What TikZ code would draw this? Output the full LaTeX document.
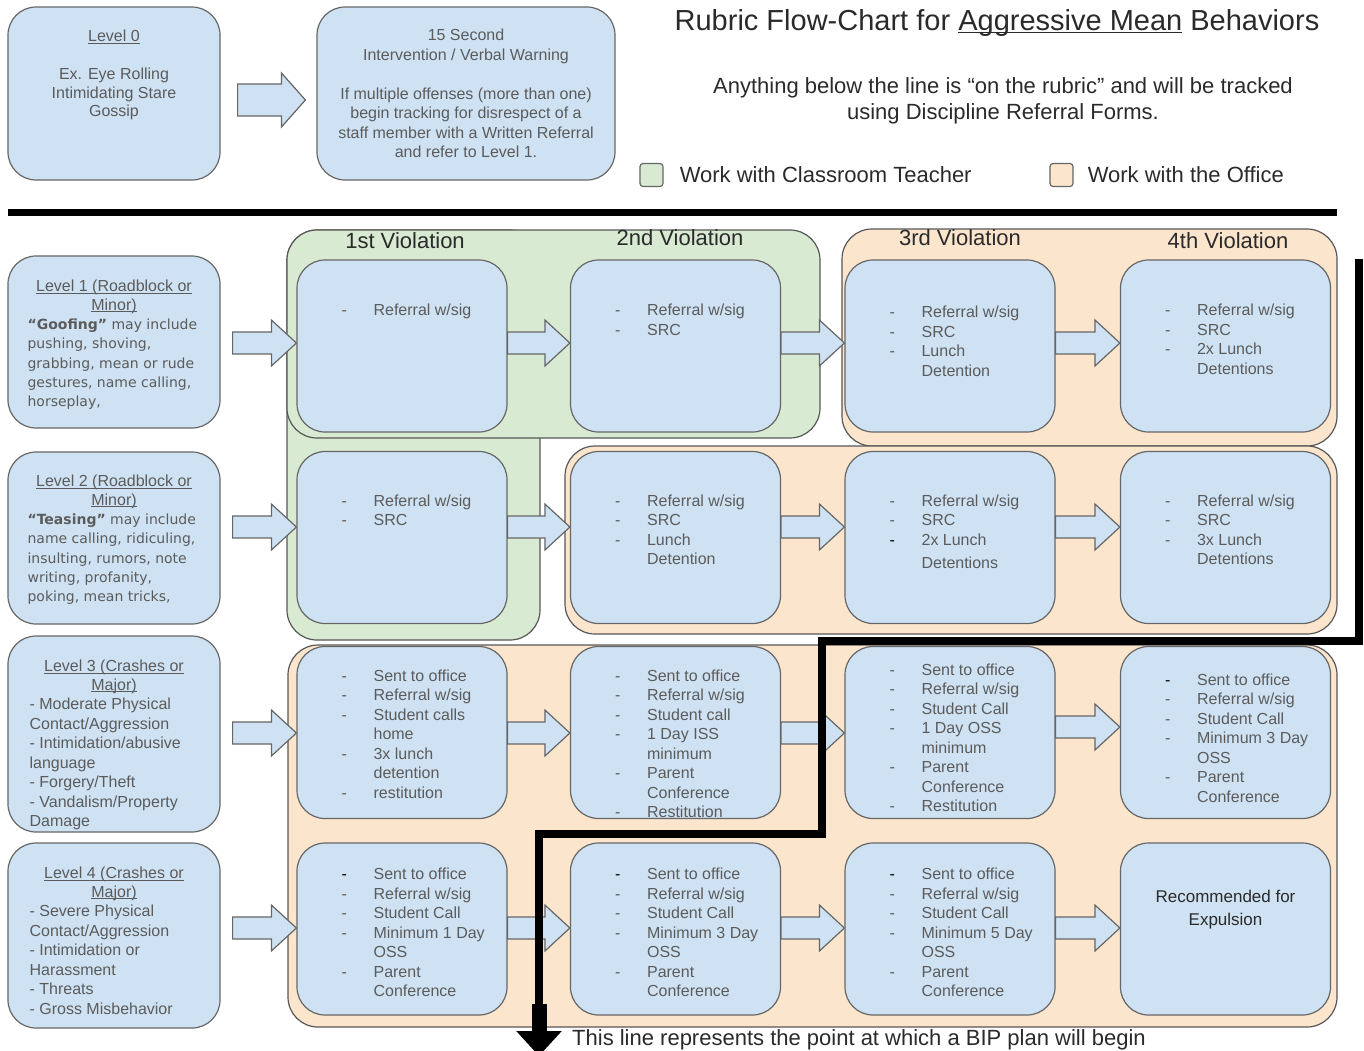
\documentclass[tikz,border=0pt]{standalone}
\usepackage{fontspec}
\setmainfont{Liberation Sans}
\newfontfamily\verd{DejaVu Sans}
\usetikzlibrary{calc}
\usetikzlibrary{positioning}
\usetikzlibrary{arrows.meta}

\definecolor{boxblue}{HTML}{CFE2F3}
\definecolor{grpgreen}{HTML}{D9EAD3}
\definecolor{grporange}{HTML}{FCE5CD}
\definecolor{edgegray}{HTML}{666666}
\definecolor{txtgray}{HTML}{5B5B5B}
\definecolor{darktxt}{HTML}{2A2A2A}

% list helpers
\newcommand{\firstln}{\rule{0pt}{14pt}}
\newcommand{\bul}{\rule{0pt}{14pt}\makebox[32pt][l]{-}}
\newcommand{\bulk}{\rule{0pt}{14pt}\makebox[32pt][l]{\textcolor{black}{-}}}
\newcommand{\contln}{\hspace*{32pt}}
\newcommand{\undl}[1]{\setbox0=\hbox{#1}\rlap{\rule[-0.12em]{\wd0}{0.055em}}\box0\relax}

\tikzset{
  vbox/.style={draw=edgegray, fill=boxblue, line width=1.2pt, rounded corners=28pt,
    minimum width=210pt, minimum height=172pt, inner sep=0pt},
  lvlbox/.style={vbox, minimum width=212pt},
  grp/.style={draw=edgegray!85!black, line width=1.2pt, rounded corners=30pt},
  fatarrow/.style={draw=edgegray, fill=boxblue, line width=1.2pt, line join=miter},
  lst/.style={anchor=north west, inner sep=0pt, align=left, text=txtgray,
    font=\fontsize{16}{19.5}\selectfont},
  lvlhead/.style={anchor=north, inner sep=0pt, align=center, text=txtgray,
    font=\fontsize{16}{18.5}\selectfont},
  lvlbody/.style={anchor=north west, inner sep=0pt, align=left, text=txtgray,
    font=\fontsize{16}{19.5}\selectfont},
  hdr/.style={anchor=base, inner sep=0pt, text=darktxt, font=\fontsize{22}{26}\selectfont},
  legsq/.style={draw=edgegray, line width=1.2pt, rounded corners=3pt, minimum size=23pt, inner sep=0pt},
  bip/.style={line width=8pt, line join=miter},
}

% block arrow between two boxes at height #4, tail gap #1
\newcommand{\fatarrow}[4][0]{%
  \draw[fatarrow] let \p1=(#2.east), \p2=(#3.west), \p3=(0,#4) in
    (\x1+#1,\y3+11) -- (\x2-25,\y3+11) -- (\x2-25,\y3+23) -- (\x2,\y3)
    -- (\x2-25,\y3-23) -- (\x2-25,\y3-11) -- (\x1+#1,\y3-11) -- cycle;}

\begin{document}
\begin{tikzpicture}[x=1pt,y=-1pt]
\useasboundingbox (0,0) rectangle (1364,1050);

% top part
\node[lvlbox, minimum height=173pt] (l0) at (114,93.5) {};
\node[vbox, minimum width=298pt, minimum height=173pt] (int) at (466,93.5) {};
\draw[fatarrow] let \p1=(l0.east), \p2=(int.west), \p3=(0,100) in
  (\x1+17,\y3+16) -- (\x2-35,\y3+16) -- (\x2-35,\y3+27) -- (\x2-11,\y3)
  -- (\x2-35,\y3-27) -- (\x2-35,\y3-16) -- (\x1+17,\y3-16) -- cycle;
\node[lvlhead] (l0txt) at ($(l0.north)+(0,21)$) {\firstln\undl{Level 0}\\[19.5pt]Ex. Eye Rolling\\Intimidating Stare\\Gossip};
\node[lvlhead, font=\fontsize{16}{19.5}\selectfont] (inttxt) at ($(int.north)+(0,20)$) {\firstln 15 Second\\Intervention / Verbal Warning\\[19.5pt]If multiple offenses (more than one)\\begin tracking for disrespect of a\\staff member with a Written Referral\\and refer to Level 1.};

\node[anchor=base, inner sep=0pt, text=darktxt, font=\fontsize{29}{34}\selectfont] (title) at (997,30) {Rubric Flow-Chart for \undl{Aggressive Mean} Behaviors};
\node[anchor=north, inner sep=0pt, align=center, text=darktxt, font=\fontsize{22}{26}\selectfont] (subtitle) at (1003,75) {\rule{0pt}{18pt}Anything below the line is “on the rubric” and will be tracked\\using Discipline Referral Forms.};

\node[legsq, fill=grpgreen] (leggreen) at (651.5,175) {};
\node[hdr, anchor=west, right=16pt of leggreen] (legteach) {Work with Classroom Teacher};
\node[legsq, fill=grporange] (legorange) at (1061.5,175) {};
\node[hdr, anchor=west, right=14pt of legorange] (legoffice) {Work with the Office};

\draw[line width=7pt] (8,212) -- (1337,212);

% coloured groups
\draw[grp, fill=grpgreen] (287,230) rectangle (540,640);
\draw[grp, fill=grpgreen] (287,230) rectangle (820,438);
\draw[grp, fill=grporange] (842,229) rectangle (1337,446);
\draw[grp, fill=grporange] (288,645) rectangle (1337,1027);
\draw[grp, fill=grporange] (565,446) rectangle (1337,634);

\node[hdr] (hd1) at (405,248) {1st Violation};
\node[hdr] (hd2) at (680,245) {2nd Violation};
\node[hdr] (hd3) at (960,245) {3rd Violation};
\node[hdr] (hd4) at (1228,248) {4th Violation};

% level boxes
\node[lvlbox] (l1) at (114,342) {};
\node[lvlbox] (l2) at (114,538) {};
\node[lvlbox, minimum height=196pt] (l3) at (114,734) {};
\node[lvlbox, minimum height=185pt] (l4) at (114,935.5) {};

% violation boxes
\foreach \r/\ry in {1/346,2/537.5,3/732.5,4/929}
  \foreach \c/\cx in {1/402,2/675.5,3/950,4/1225.5}
    \node[vbox] (v\r\c) at (\cx,\ry) {};

\foreach \r/\ay/\by in {1/343/343,2/527/527,3/733/727,4/928/928} {
  \fatarrow[12]{l\r}{v\r1}{\ay}
  \fatarrow{v\r1}{v\r2}{\ay}
  \fatarrow{v\r2}{v\r3}{\ay}
  \fatarrow{v\r3}{v\r4}{\by}
}

% level texts
\node[lvlhead] (l1head) at ($(l1.north)+(0,22)$) {\firstln\undl{Level 1 (Roadblock or}\\\undl{Minor)}};
\node[lvlbody, font=\verd\fontsize{14}{19.3}\selectfont] (l1body) at ($(l1.north west)+(20,60)$) {\firstln\textbf{“Goofing”} may include\\pushing, shoving,\\grabbing, mean or rude\\gestures, name calling,\\horseplay,};
\node[lvlhead] (l2head) at ($(l2.north)+(0,21)$) {\firstln\undl{Level 2 (Roadblock or}\\\undl{Minor)}};
\node[lvlbody, font=\verd\fontsize{14}{19.3}\selectfont] (l2body) at ($(l2.north west)+(20,59)$) {\firstln\textbf{“Teasing”} may include\\name calling, ridiculing,\\insulting, rumors, note\\writing, profanity,\\poking, mean tricks,};
\node[lvlhead] (l3head) at ($(l3.north)+(0,22)$) {\firstln\undl{Level 3 (Crashes or}\\\undl{Major)}};
\node[lvlbody] (l3body) at ($(l3.north west)+(22,60)$) {\firstln- Moderate Physical\\Contact/Aggression\\- Intimidation/abusive\\language\\- Forgery/Theft\\- Vandalism/Property\\Damage};
\node[lvlhead] (l4head) at ($(l4.north)+(0,22)$) {\firstln\undl{Level 4 (Crashes or}\\\undl{Major)}};
\node[lvlbody] (l4body) at ($(l4.north west)+(22,60)$) {\firstln- Severe Physical\\Contact/Aggression\\- Intimidation or\\Harassment\\- Threats\\- Gross Misbehavior};

% violation texts
\node[lst] (t11) at ($(v11.north west)+(45,42)$) {\bul Referral w/sig};
\node[lst] (t12) at ($(v12.north west)+(45,42)$) {\bul Referral w/sig\\\bul SRC};
\node[lst] (t13) at ($(v13.north west)+(45,44)$) {\bul Referral w/sig\\\bul SRC\\\bul Lunch\\\contln Detention};
\node[lst] (t14) at ($(v14.north west)+(45,42)$) {\bul Referral w/sig\\\bul SRC\\\bul 2x Lunch\\\contln Detentions};

\node[lst] (t21) at ($(v21.north west)+(45,41)$) {\bul Referral w/sig\\\bul SRC};
\node[lst] (t22) at ($(v22.north west)+(45,41)$) {\bul Referral w/sig\\\bul SRC\\\bul Lunch\\\contln Detention};
\node[lst] (t23) at ($(v23.north west)+(45,41)$) {\bul Referral w/sig\\\bul SRC\\\bulk 2x Lunch\\[4pt]\contln Detentions};
\node[lst] (t24) at ($(v24.north west)+(45,41)$) {\bul Referral w/sig\\\bul SRC\\\bul 3x Lunch\\\contln Detentions};

\node[lst] (t31) at ($(v31.north west)+(45,21)$) {\bul Sent to office\\\bul Referral w/sig\\\bul Student calls\\\contln home\\\bul 3x lunch\\\contln detention\\\bul restitution};
\node[lst] (t32) at ($(v32.north west)+(45,21)$) {\bul Sent to office\\\bul Referral w/sig\\\bul Student call\\\bul 1 Day ISS\\\contln minimum\\\bul Parent\\\contln Conference\\\bul Restitution};
\node[lst] (t33) at ($(v33.north west)+(45,15)$) {\bul Sent to office\\\bul Referral w/sig\\\bul Student Call\\\bul 1 Day OSS\\\contln minimum\\\bul Parent\\\contln Conference\\\bul Restitution};
\node[lst] (t34) at ($(v34.north west)+(45,25)$) {\bulk Sent to office\\\bul Referral w/sig\\\bul Student Call\\\bul Minimum 3 Day\\\contln OSS\\\bul Parent\\\contln Conference};

\node[lst] (t41) at ($(v41.north west)+(45,23)$) {\bulk Sent to office\\\bul Referral w/sig\\\bul Student Call\\\bul Minimum 1 Day\\\contln OSS\\\bul Parent\\\contln Conference};
\node[lst] (t42) at ($(v42.north west)+(45,23)$) {\bulk Sent to office\\\bul Referral w/sig\\\bul Student Call\\\bul Minimum 3 Day\\\contln OSS\\\bul Parent\\\contln Conference};
\node[lst] (t43) at ($(v43.north west)+(45,23)$) {\bulk Sent to office\\\bul Referral w/sig\\\bul Student Call\\\bul Minimum 5 Day\\\contln OSS\\\bul Parent\\\contln Conference};
\node[anchor=north, inner sep=0pt, align=center, text=darktxt, font=\fontsize{17}{23}\selectfont] (t44) at ($(v44.north)+(0,46)$) {\firstln Recommended for\\Expulsion};

% BIP line
\coordinate (bipstart) at (1359,259);
\coordinate (bipturnA) at (822,641);
\coordinate (bipturnB) at (539,834);
\coordinate (bipneck) at (539,1004);
\coordinate (biptip) at (539,1056);
\draw[bip] (bipstart) |- (bipturnA) |- (bipturnB) -- (bipneck);
\draw[line width=15pt, -{Triangle[length=25pt,width=44pt]}] (bipneck) -- (biptip);
\node[hdr, anchor=base west] (biptext) at (572,1045) {This line represents the point at which a BIP plan will begin};
\end{tikzpicture}
\end{document}
